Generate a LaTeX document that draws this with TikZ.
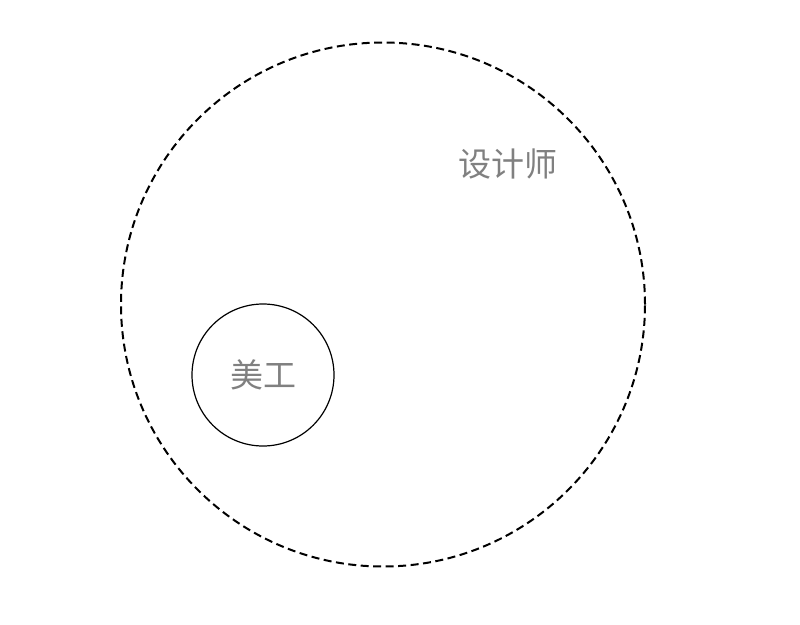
\documentclass[tikz,border=0pt]{standalone}
\usepackage{fontspec}
\newfontfamily\cjk{Noto Sans CJK SC}
\usepackage{tikz}
\usetikzlibrary{positioning}

\begin{document}
\begin{tikzpicture}[x=1pt,y=-1pt,semithick]
		\tikzstyle{every node}=[font=\cjk\fontsize{33}{33}\selectfont,text=black!50]
		\tikzstyle{group}=[circle,draw=black,inner sep=0pt]
		
		\useasboundingbox (0,0) rectangle (800,624);
		\node[group,dashed,line width=2pt,dash pattern=on 8pt off 4.5pt,minimum size=524pt] (designer) at (383,304.5) {};
		\node[group,line width=1.2pt,minimum size=142pt] (artist) at (263,375) {美工};
		\node (designerlabel) at (508,164) {设计师};

	\end{tikzpicture}
\end{document}
